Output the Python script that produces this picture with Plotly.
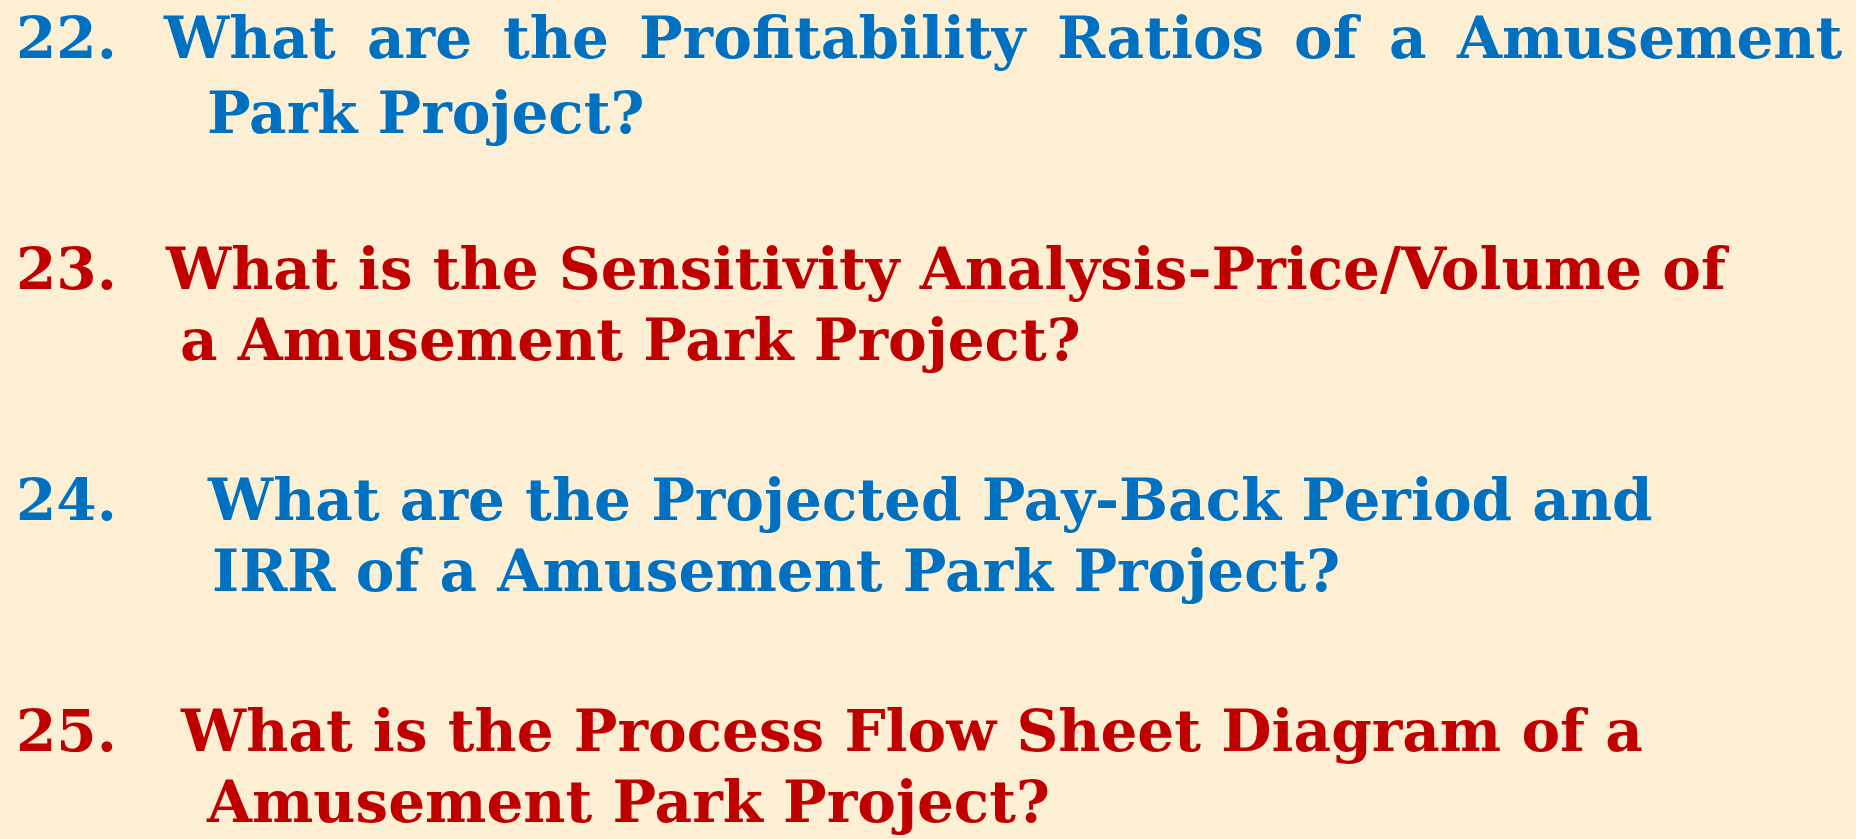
import plotly.graph_objects as go

W, H = 1856, 839
BG = "#FCEFD4"
BLUE = "#0070C0"
RED = "#C00000"
FONT = "DejaVu Serif"

numbers = ["22.", "23.", "24.", "25."]
first_lines = [
    "What are the Profitability Ratios of a Amusement",
    "What is the Sensitivity Analysis-Price/Volume of",
    "What are the Projected Pay-Back Period and",
    "What is the Process Flow Sheet Diagram of a",
]
second_lines = [
    "Park Project?",
    "a Amusement Park Project?",
    "IRR of a Amusement Park Project?",
    "Amusement Park Project?",
]
colors = [BLUE, RED, BLUE, RED]

# layout (pixels)
num_x = 14
first_x = [163, 163, 205, 178]
second_x = [205, 178, 210, 204]
first_base = [57, 288, 519, 750]
second_base = [132, 359, 590, 821]
# the first line of item 22 is justified: word start positions
justified_x = [161, 365, 501, 637, 1055, 1292, 1387, 1454]
fs = 58

fig = go.Figure()
anns = []
def add(text, x, base, color):
    ytop = base - 0.93 * fs - 1
    anns.append(dict(text="<b>" + text + "</b>", x=x / W, y=1 - ytop / H,
                     xref="paper", yref="paper", xanchor="left", yanchor="top",
                     showarrow=False, align="left",
                     font=dict(family=FONT, size=fs, color=color)))

for i in range(4):
    add(numbers[i], num_x, first_base[i], colors[i])
    if i == 0:
        for word, wx in zip(first_lines[i].split(" "), justified_x):
            add(word, wx, first_base[i], colors[i])
    else:
        add(first_lines[i], first_x[i], first_base[i], colors[i])
    add(second_lines[i], second_x[i], second_base[i], colors[i])

fig.update_layout(width=W, height=H, margin=dict(l=0, r=0, t=0, b=0),
                  paper_bgcolor=BG, plot_bgcolor=BG, annotations=anns,
                  xaxis=dict(visible=False), yaxis=dict(visible=False))
fig.write_html("out.html", config={"displayModeBar": False},
               post_script="document.body.style.margin='0';document.body.style.background='%s';" % BG)
